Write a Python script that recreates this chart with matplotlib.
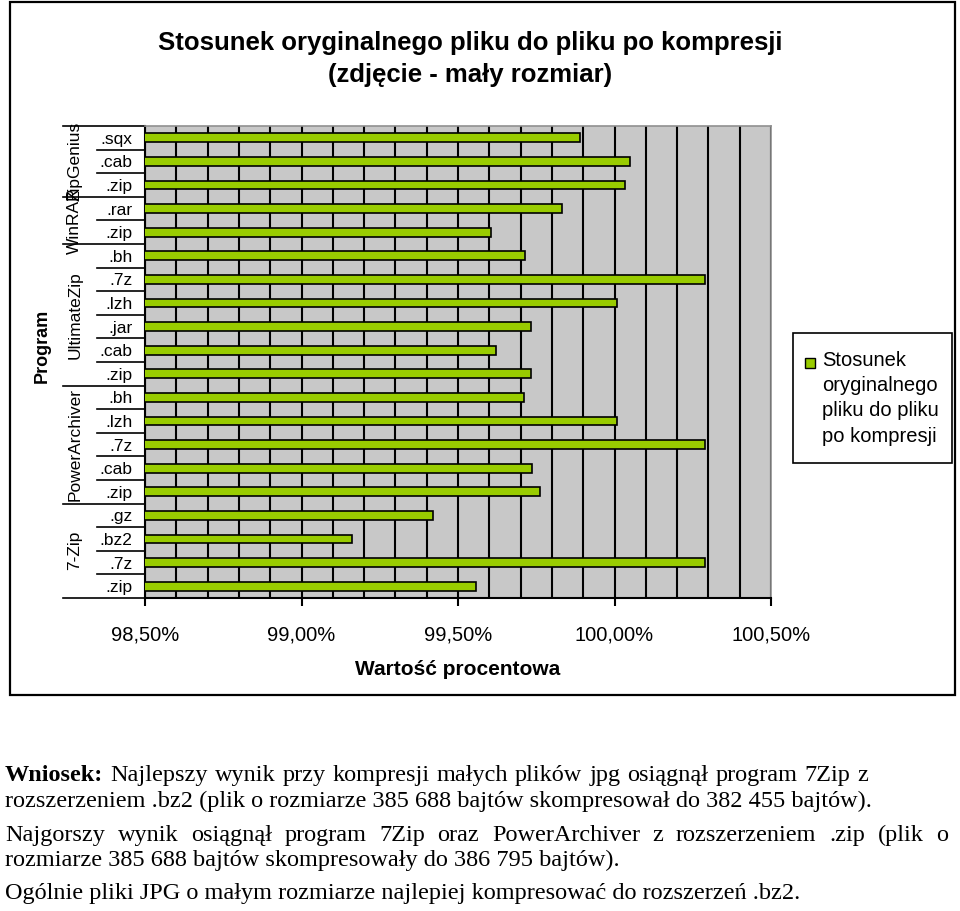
import matplotlib
matplotlib.use("Agg")
import matplotlib.pyplot as plt
import matplotlib.transforms as mtransforms
from matplotlib.patches import Rectangle

plt.rcParams['font.family'] = ['Liberation Sans', 'DejaVu Sans']

# data, bottom to top as drawn
extensions = ['.zip', '.7z', '.bz2', '.gz',
              '.zip', '.cab', '.7z', '.lzh', '.bh',
              '.zip', '.cab', '.jar', '.lzh', '.7z', '.bh',
              '.zip', '.rar',
              '.zip', '.cab', '.sqx']
programs = ['7-Zip', 'PowerArchiver', 'UltimateZip', 'WinRAR', 'ZipGenius']
group_sizes = [4, 5, 6, 2, 3]
ratios = [99.559, 100.288, 99.162, 99.421,
          99.763, 99.737, 100.288, 100.009, 99.712,
          99.734, 99.621, 99.734, 100.009, 100.288, 99.714,
          99.605, 99.831,
          100.035, 100.048, 99.889]
x_ticks = [98.5, 99.0, 99.5, 100.0, 100.5]
legend_lines = ['Stosunek', 'oryginalnego', 'pliku do pliku', 'po kompresji']

W, H = 960, 911
fig = plt.figure(figsize=(W / 100, H / 100), dpi=100)

def fx(px):
    return px / W

def fy(py):
    return 1 - py / H

# outer chart frame
fig.patches.append(Rectangle((fx(10), fy(695)), fx(945), 693 / H, transform=fig.transFigure,
                             fill=False, edgecolor='black', linewidth=1.6))

ax = fig.add_axes([fx(145), fy(598), fx(626), 472 / H])
ax.set_facecolor('#c8c8c8')
ax.set_axisbelow(True)

ypos = list(range(len(ratios)))
ax.barh(ypos, ratios, height=0.38, color='#99cc00', edgecolor='black', linewidth=1.2, zorder=3)

ax.set_xlim(98.5, 100.5)
ax.set_ylim(-0.5, len(ratios) - 0.5)
ax.set_xticks(x_ticks)
ax.set_xticklabels([f"{v:.2f}%".replace('.', ',') for v in x_ticks], fontsize=14.5)
ax.set_xticks([98.5 + 0.1 * i for i in range(1, 20)], minor=True)
ax.grid(True, which='both', axis='x', color='black', linewidth=1.5)
ax.tick_params(axis='x', which='major', length=6, width=1.5, direction='out', pad=14)
ax.tick_params(axis='x', which='minor', length=0)
ax.set_yticks(ypos)
ax.set_yticklabels(extensions, fontsize=12.5)
ax.tick_params(axis='y', length=0, pad=9)

for s in ['left', 'bottom']:
    ax.spines[s].set_color('black')
    ax.spines[s].set_linewidth(1.5)
for s in ['top', 'right']:
    ax.spines[s].set_color('#909090')
    ax.spines[s].set_linewidth(1.2)

ax.set_xlabel('Wartość procentowa', fontsize=15, fontweight='bold', labelpad=11)

# category separators and program group labels
trans = mtransforms.blended_transform_factory(ax.transAxes, ax.transData)
group_edges = [0]
for n in group_sizes:
    group_edges.append(group_edges[-1] + n)
for i in range(len(ratios) + 1):
    x0 = -0.131 if i in group_edges else -0.077
    ax.plot([x0, 0], [i - 0.5, i - 0.5], transform=trans, clip_on=False,
            color='black', linewidth=1.2)
for name, a, b in zip(programs, group_edges[:-1], group_edges[1:]):
    ax.text(-0.112, (a + b - 1) / 2, name, transform=trans, rotation=90,
            ha='center', va='center', fontsize=12.5)

fig.text(fx(42), fy(346), 'Program', rotation=90, ha='center', va='center',
         fontsize=13, fontweight='bold')

fig.text(fx(470), fy(59), 'Stosunek oryginalnego pliku do pliku po kompresji\n(zdjęcie - mały rozmiar)',
         ha='center', va='center', fontsize=18.5, fontweight='bold', linespacing=1.4)

# legend box drawn by hand (marker aligned with the first line)
fig.patches.append(Rectangle((fx(793), fy(463)), fx(159), 130 / H, transform=fig.transFigure,
                             fill=True, facecolor='white', edgecolor='black', linewidth=1.2))
fig.patches.append(Rectangle((fx(805), fy(368)), fx(10), 10 / H, transform=fig.transFigure,
                             facecolor='#99cc00', edgecolor='black', linewidth=1))
for k, txt in enumerate(legend_lines):
    fig.text(fx(822), fy(361 + 25 * k), txt, ha='left', va='center', fontsize=14.5)

# conclusion text below the chart (justified paragraph like in the document)
serif = ['Liberation Serif', 'DejaVu Serif']
tfs = 17.5
base = 6  # px from line centre to baseline
renderer = fig.canvas.get_renderer()

def text_width(s, **kw):
    t = fig.text(0, 0, s, family=serif, fontsize=tfs, **kw)
    w = t.get_window_extent(renderer).width
    t.remove()
    return w

def justified(x_start, x_end, py, words, first_bold=False):
    widths = []
    for k, w in enumerate(words):
        kw = {'fontweight': 'bold'} if (first_bold and k == 0) else {}
        widths.append(text_width(w, **kw))
    gap = (x_end - x_start - sum(widths)) / (len(words) - 1)
    x = x_start
    for k, (w, wd) in enumerate(zip(words, widths)):
        kw = {'fontweight': 'bold'} if (first_bold and k == 0) else {}
        fig.text(fx(x), fy(py + base), w, family=serif, fontsize=tfs, va='baseline', **kw)
        x += wd + gap

justified(5, 868, 775, 'Wniosek: Najlepszy wynik przy kompresji małych plików jpg osiągnął program 7Zip z'.split(),
          first_bold=True)
justified(5, 948, 835, 'Najgorszy wynik osiągnął program 7Zip oraz PowerArchiver z rozszerzeniem .zip (plik o'.split())
lines = [
    (801, 'rozszerzeniem .bz2 (plik o rozmiarze 385 688 bajtów skompresował do 382 455 bajtów).'),
    (860, 'rozmiarze 385 688 bajtów skompresowały do 386 795 bajtów).'),
    (893, 'Ogólnie pliki JPG o małym rozmiarze najlepiej kompresować do rozszerzeń .bz2.'),
]
for py, txt in lines:
    fig.text(fx(5), fy(py + base), txt, family=serif, fontsize=tfs, va='baseline')

fig.savefig('out.png', dpi=100)
